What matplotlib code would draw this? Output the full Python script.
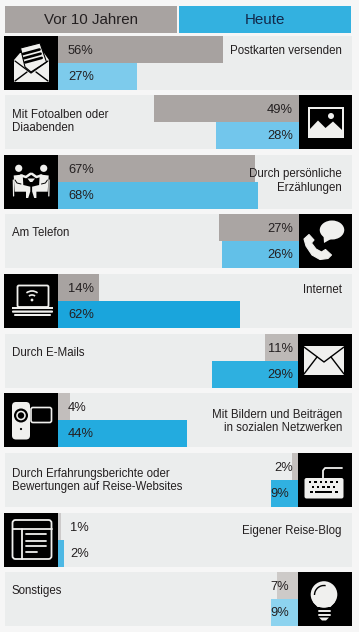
import numpy as np
import matplotlib
matplotlib.use("Agg")
import matplotlib.pyplot as plt
from matplotlib.patches import Rectangle, Polygon, Circle, Ellipse, FancyBboxPatch, Arc, PathPatch
from matplotlib.path import Path

# ---- data ----
categories = ["Postkarten versenden", "Mit Fotoalben oder\nDiaabenden",
              "Durch persönliche\nErzählungen", "Am Telefon", "Internet", "Durch E-Mails",
              "Mit Bildern und Beiträgen\nin sozialen Netzwerken",
              "Durch Erfahrungsberichte oder\nBewertungen auf Reise-Websites",
              "Eigener Reise-Blog", "Sonstiges"]
vor_10_jahren = [56, 49, 67, 27, 14, 11, 4, 2, 1, 7]
heute = [27, 28, 68, 26, 62, 29, 44, 9, 2, 9]
gray_colors = ["#a7a2a0", "#aaa5a3", "#aaa5a3", "#aaa5a3", "#a8a3a1", "#bdb9b7", "#c2bebc", "#c4c0be", "#cccaca", "#cdcac8"]
blue_colors = ["#7dcbec", "#72c6ec", "#57bce5", "#62c0e8", "#1aa5dc", "#2eb0e0", "#23abdf", "#30b1e1", "#4db8e4", "#8dd3ef"]
headers = ["Vor 10 Jahren", "Heute"]

# ---- layout ----
W, H = 359, 632
FONT = "Liberation Sans"
TXT = "#231f20"
LIGHT = "#f0f0ee"
BG = "#f6f6f6"
PANEL = "#ebeded"
row_tops = [36, 95, 155, 214, 274, 334, 393, 453, 513, 572]
cat_offsets = [15, 26.5, 26, 19, 16, 19, 28.5, 27.5, 18, 19]
ROW_H = 54
L, R = 4, 352

fig = plt.figure(figsize=(W / 100, H / 100), dpi=100, facecolor=BG)

def px_axes(x0, y0, x1, y1, **kw):
    return fig.add_axes([x0 / W, 1 - y1 / H, (x1 - x0) / W, (y1 - y0) / H], **kw)

ov = px_axes(0, 0, W, H, zorder=1)
ov.set_xlim(0, W); ov.set_ylim(H, 0); ov.axis("off")
ic = px_axes(0, 0, W, H, zorder=3)
ic.set_xlim(0, W); ic.set_ylim(H, 0); ic.axis("off"); ic.patch.set_alpha(0)

ov.add_patch(Rectangle((5, 6), 172, 27, fc="#a8a3a1", lw=0))
ov.add_patch(Rectangle((179, 6), 172, 27, fc="#33b1e0", lw=0))
ov.text(91, 20, headers[0], ha="center", va="center", fontsize=10.9, family=FONT, color=TXT)
ov.text(265, 20, headers[1], ha="center", va="center", fontsize=10.9, family=FONT, color="#12284a")

for i, top in enumerate(row_tops):
    left_icon = i % 2 == 0
    ppp = 2.94 if left_icon else 2.96
    ov.add_patch(Rectangle((L if left_icon else L + 1, top), R - L - (0 if left_icon else 1), ROW_H, fc=PANEL, lw=0))
    if left_icon:
        ix, iw = L, 54
        x0, x1 = 58, R
    else:
        ix = 299 if i in (1, 3) else 298
        iw = R - ix
        x0, x1 = L + 1, ix
    ov.add_patch(Rectangle((ix, top), iw, ROW_H, fc="black", lw=0))
    ax = px_axes(x0, top, x1, top + ROW_H, zorder=2)
    ax.patch.set_alpha(0); ax.axis("off")
    span = (x1 - x0) / ppp
    ax.set_xlim((0, span) if left_icon else (span, 0))
    ax.set_ylim(2, 0)
    vals = [vor_10_jahren[i], heute[i]]
    ax.barh([0.5, 1.5], vals, height=1.0, color=[gray_colors[i], blue_colors[i]], lw=0)
    for y, v in zip([0.57, 1.53], vals):
        if left_icon:
            off = (12 if v < 3 else 10) / ppp
        else:
            pad = 9 if v in (7, 9) else 5
            off = (pad + ix - 298) / ppp
        ax.text(off, y, f"{v}%", ha="left" if left_icon else "right", va="center",
                fontsize=9.3, family=FONT, color=TXT)
    tx, ha = (342, "right") if left_icon else (12, "left")
    ic.text(tx, top + cat_offsets[i], categories[i], ha=ha, va="center", multialignment=ha,
            fontsize=8.3, family=FONT, color=TXT, linespacing=1.19)

# ---- icons (decoration, pixel coordinates) ----
def line(xs, ys, c=LIGHT, lw=1.0, **kw):
    ic.plot(xs, ys, color=c, lw=lw, solid_capstyle=kw.pop("cap", "round"), **kw)

def rrect(x, y, w, h, r=2, fc="none", ec=LIGHT, lw=1.0):
    ic.add_patch(FancyBboxPatch((x, y), w, h, boxstyle=f"round,pad=0,rounding_size={r}", fc=fc, ec=ec, lw=lw))

# 1 open envelope
ic.add_patch(Polygon([(14, 60), (20, 53), (44, 53), (49, 60), (49, 82), (14, 82)], fc=LIGHT, lw=0))
ic.add_patch(Polygon([(20.5, 48), (40, 43), (46.5, 62), (31, 72), (25, 67)], fc=LIGHT, ec="black", lw=0.8))
for k in range(3):
    line([23 + k * 1.1, 39.5 + k * 1.1], [54 + k * 4.2, 49.5 + k * 4.2], c="black", lw=1.9)
line([15, 31, 48], [61, 73, 61], c="black", lw=0.9)
line([15, 27], [81, 72], c="black", lw=1.0)
line([48, 36], [81, 72], c="black", lw=1.0)

# 2 picture
ic.add_patch(Rectangle((307.5, 106.5), 36.5, 31, fc=LIGHT, lw=0))
ic.add_patch(Rectangle((309.5, 109), 32.5, 24, fc="black", lw=0))
ic.add_patch(Polygon([(309.5, 129.5), (318, 120.5), (325.5, 128), (333, 121.5), (342, 130), (342, 133), (309.5, 133)], fc=LIGHT, lw=0))
ic.add_patch(Circle((331, 116), 3, fc=LIGHT, lw=0))

# 3 two people at a table
for s in (1, -1):
    mx = lambda x: 31.2 - s * (31.2 - x)
    ic.add_patch(Circle((mx(18.7), 168.3), 3.6, fc=LIGHT, lw=0))
    line([mx(21), mx(26), mx(30.5)], [175.5, 177, 173.8], lw=1.8)
    ic.add_patch(Polygon([(mx(x), y) for x, y in [(13.7, 175.5), (22.7, 174.5), (23.3, 185), (30.3, 186.7), (30.3, 191.5),
                                                   (28.2, 198), (26, 198), (26, 191.7), (14.7, 191.7)]], fc=LIGHT, lw=0))
    line([mx(15), mx(17), mx(21)], [180, 183, 184], c="black", lw=0.7)
    line([mx(13.3), mx(13.6)], [180, 196], lw=0.9)
ic.add_patch(Polygon([(27.5, 178.5), (35, 178.5), (32.3, 182), (30.1, 182)], fc=LIGHT, lw=0))

# 4 phone + speech bubble
ic.add_patch(Ellipse((332, 230), 24.5, 19, fc=LIGHT, lw=0))
ic.add_patch(Polygon([(323.5, 235), (324, 243), (331, 239)], fc=LIGHT, lw=0))
verts = [(309, 234.5), (304, 239), (306, 246), (312, 255), (320, 259.5), (328, 258.5), (331.5, 255), (325.5, 249.5), (321.5, 252), (316, 249), (311.5, 243), (314, 240)]
ic.add_patch(PathPatch(Path(verts + [verts[0]], [Path.MOVETO] + [Path.LINETO] * 11 + [Path.CLOSEPOLY]),
                       fc=LIGHT, ec=LIGHT, lw=0.8, joinstyle="round"))

# 5 laptop with wifi
rrect(17.5, 285.5, 31, 21.5, r=1.5, lw=1.3)
ic.add_patch(Rectangle((12, 307), 41, 2.2, fc=LIGHT, lw=0))
rrect(12, 310.5, 41, 2.2, r=1, fc=LIGHT, lw=0)
rrect(14, 314, 37, 2, r=1, fc=LIGHT, lw=0)
for r in (5, 9):
    ic.add_patch(Arc((32, 300), 2 * r, 2 * r, theta1=232, theta2=308, ec=LIGHT, lw=1.2))
ic.add_patch(Circle((32, 300), 1.4, fc=LIGHT, lw=0))

# 6 envelope
ic.add_patch(Rectangle((304, 346), 40, 29, fc=LIGHT, lw=0))
line([304, 324, 344], [347, 362, 347], c="black", lw=1.0)
line([304, 317], [374, 357], c="black", lw=1.0)
line([344, 331], [374, 357], c="black", lw=1.0)

# 7 camcorder
rrect(12, 402, 18, 37.5, r=4, fc=LIGHT, lw=0)
ic.add_patch(Circle((21, 415.5), 7, fc="black", lw=0))
ic.add_patch(Circle((21, 415.5), 4.8, fc=LIGHT, lw=0))
ic.add_patch(Circle((21, 415.5), 3.2, fc="black", lw=0))
ic.add_patch(Circle((21, 429), 1.1, fc="black", lw=0))
rrect(31, 407.5, 20.5, 15, r=2, lw=1.2)

# 8 keyboard
rrect(304.5, 478, 39, 20.5, r=2, fc=LIGHT, lw=0)
line([323, 323, 325, 342], [478, 470.5, 468, 468], lw=1.3)
for x in np.arange(310, 338, 5.3):
    ic.add_patch(Rectangle((x - 1, 481), 2.4, 2.4, fc="black", lw=0))
for x in np.arange(312.5, 336, 5.3):
    ic.add_patch(Rectangle((x - 1, 486), 2.4, 2.4, fc="black", lw=0))
for x0_, w_ in [(309.5, 3), (315, 17), (335, 3)]:
    ic.add_patch(Rectangle((x0_, 491), w_, 2.4, fc="black", lw=0))

# 9 blog layout
rrect(12.5, 520, 39, 39, r=3, lw=1.3)
line([12.5, 51.5], [529, 529], lw=1.3)
line([21.7, 21.7], [529, 559], lw=1.3)
for y, xe in [(534, 45.7), (540.5, 45.7), (546, 45.7), (552, 36.7)]:
    line([25.5, xe], [y, y], lw=1.3)

# 10 bulb
ic.add_patch(Circle((324, 594.5), 13.3, fc=LIGHT, lw=0))
ic.add_patch(Polygon([(313, 602), (335, 602), (330.5, 607), (317.5, 607)], fc=LIGHT, lw=0))
ic.add_patch(Arc((324, 595), 19, 19, theta1=180, theta2=280, ec="black", lw=1.0))
for y in (610.5, 614.5):
    line([318.5, 329.5], [y, y], lw=1.4)
ic.add_patch(Polygon([(319, 617.5), (329, 617.5), (326, 620.5), (322, 620.5)], fc=LIGHT, lw=0))

fig.savefig("out.png", dpi=100, facecolor=BG)
